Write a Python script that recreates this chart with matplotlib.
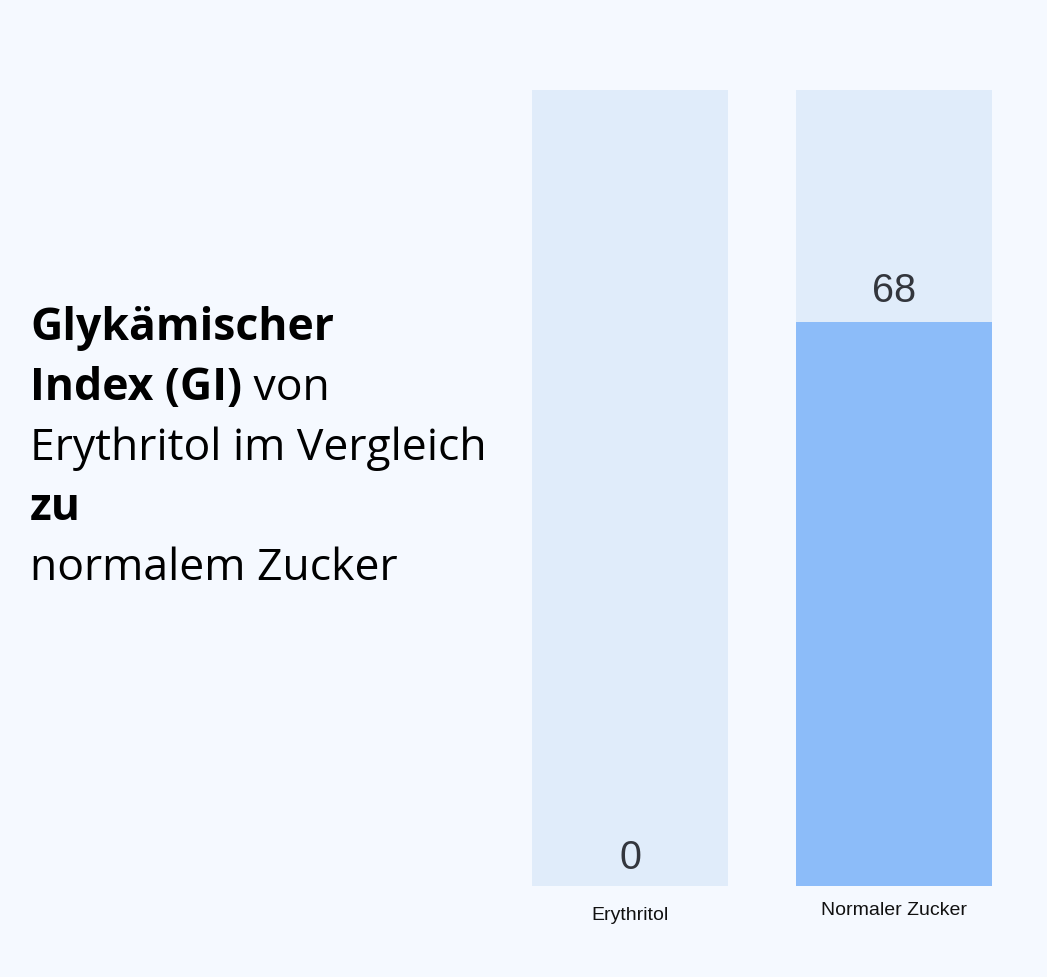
import matplotlib.pyplot as plt
from matplotlib.transforms import offset_copy

# data
categories = ['Erythritol', 'Normaler Zucker']
gi_values = [0, 68]
scale_max = 96  # top of the pale track bars

bg = '#F5F9FF'
track_color = '#E0ECFA'
fill_color = '#8CBCF9'
value_color = '#33363D'

fig = plt.figure(figsize=(10.47, 9.78), dpi=100)
fig.patch.set_facecolor(bg)

# bar area
ax = fig.add_axes([532 / 1047, 1 - 887 / 978, 460 / 1047, 796 / 978])
ax.set_facecolor(bg)
width = 196 / 264
x = list(range(len(categories)))
ax.bar(x, [scale_max] * len(x), width=width, color=track_color, zorder=1)
ax.bar(x, gi_values, width=width, color=fill_color, zorder=2)
ax.set_xlim(-width / 2, len(x) - 1 + width / 2)
ax.set_ylim(0, scale_max)
ax.axis('off')

value_offsets = [13, 15]
for xi, v, off in zip(x, gi_values, value_offsets):
    tr = offset_copy(ax.transData, fig=fig, x=0, y=off, units='points')
    ax.text(xi, v, str(v), transform=tr, ha='center', va='baseline',
            fontsize=28.5, color=value_color, family='Liberation Sans')

# category labels (slightly different offsets as in the original)
label_offsets = [-20.2, -17.2]
for xi, cat, off in zip(x, categories, label_offsets):
    tr = offset_copy(ax.transData, fig=fig, x=0, y=off, units='points')
    ax.text(xi, 0, cat, transform=tr, ha='center', va='center',
            fontsize=14, color='#111111', family='Liberation Sans')

# title block on the left, mixed bold / regular
title_font = 'Open Sans'
fs = 32
lines = [
    [('Glykämischer', 'bold')],
    [('Index (GI)', 'bold'), (' von', 'normal')],
    [('Erythritol im Vergleich', 'normal')],
    [('zu', 'bold')],
    [('normalem Zucker', 'normal')],
]
baseline0 = 340
step = 60
renderer = fig.canvas.get_renderer()
for i, parts in enumerate(lines):
    xpos = 30
    ypos = 1 - (baseline0 + i * step) / 978
    for txt, weight in parts:
        t = fig.text(xpos / 1047, ypos, txt, ha='left', va='baseline',
                     fontsize=fs, fontweight=weight, family=title_font, color='black')
        bb = t.get_window_extent(renderer=renderer)
        xpos = bb.x1

fig.savefig('out.png', dpi=100, facecolor=bg)
